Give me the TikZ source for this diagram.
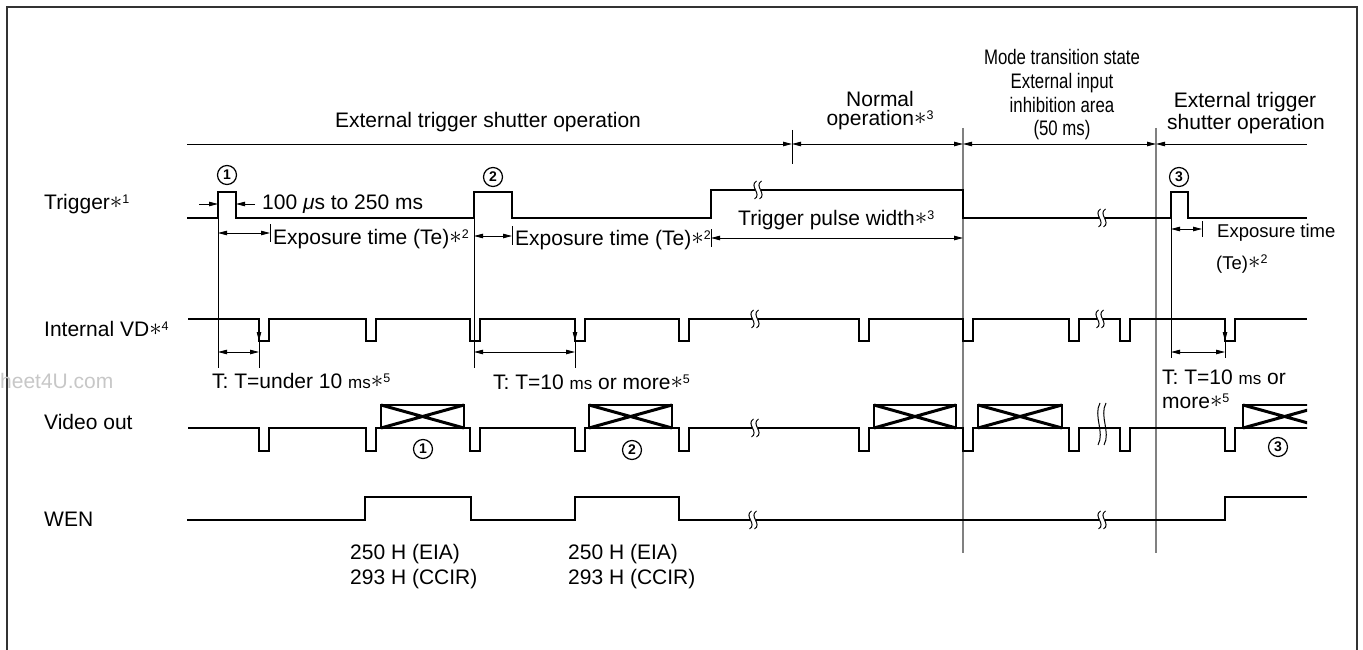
\documentclass[tikz,border=0pt]{standalone}
\usepackage{fontspec}
\setmainfont{Liberation Sans}
\newfontfamily\narrowfont[FakeStretch=0.8]{Liberation Sans}
\usetikzlibrary{arrows.meta}
\newcommand{\fnote}[1]{{\fontsize{23}{23}\selectfont\raisebox{1pt}{$\ast$}}\raisebox{6pt}{\fontsize{12.5}{12.5}\selectfont #1}}
\newcommand{\smms}{{\fontsize{17}{17}\selectfont ms}}
\tikzset{
  ah/.tip={Triangle[length=9pt,width=4.5pt]},
  sig/.style={line width=2.6pt, line join=miter},
  thinl/.style={line width=0.9pt},
  dim/.style={line width=0.9pt, ah-ah},
  gline/.style={line width=1.3pt, draw=black!50},
  lbl/.style={inner sep=0pt, font=\fontsize{21}{25}\selectfont},
  slbl/.style={inner sep=0pt, font=\fontsize{18.5}{22}\selectfont},
  nlbl/.style={inner sep=0pt, font=\narrowfont\fontsize{21}{25}\selectfont},
  cnum/.style={circle, draw, line width=1.2pt, inner sep=0pt, minimum size=19pt, font=\fontsize{14}{14}\selectfont\bfseries},
  xbox/.style={line width=1.4pt},
  xdiag/.style={line width=3pt},
  brk/.pic={
    \fill[white] (-2.6,-2.5) rectangle (2.6,2.5);
    \draw[line width=1pt] (-1.5,-9) .. controls (-9.5,-4) and (4.5,4) .. (-3.5,9);
    \draw[line width=1pt] (3.5,-9) .. controls (-4.5,-4) and (9.5,4) .. (1.5,9);
  },
  brkT/.pic={
    \fill[white] (-3,-2.5) rectangle (3,2.5);
    \draw[line width=1pt] (-2,-21) .. controls (-9,-8) and (3,8) .. (-4,21);
    \draw[line width=1pt] (4,-21) .. controls (-3,-8) and (9,8) .. (2,21);
  }
}
\begin{document}
\begin{tikzpicture}[x=1pt,y=-1pt]
\useasboundingbox (0,0) rectangle (1363,650);
% frame
\draw[line width=1.5pt, black!80] (7,650) -- (7,7) -- (1357,7) -- (1357,650);

% watermark
\node[lbl, anchor=base west, text=black!22] (wm) at (0,388.5) {heet4U.com};

% row labels
\node[lbl, anchor=base west] (ltrg) at (44,209.5) {Trigger\fnote{1}};
\node[lbl, anchor=base west] (lvd) at (44,336.5) {Internal VD\fnote{4}};
\node[lbl, anchor=base west] (lvid) at (44,429.5) {Video out};
\node[lbl, anchor=base west] (lwen) at (44,526.5) {WEN};

% mode headings
\node[lbl, anchor=base] (hext) at (488,127.5) {External trigger shutter operation};
\node[lbl, anchor=base] (hnor1) at (880,106.5) {Normal};
\node[lbl, anchor=base] (hnor2) at (880,125.5) {operation\fnote{3}};
\node[nlbl, anchor=base] (hmod1) at (1062,64.5) {Mode transition state};
\node[nlbl, anchor=base] (hmod2) at (1062,88.5) {External input};
\node[nlbl, anchor=base] (hmod3) at (1062,112.5) {inhibition area};
\node[nlbl, anchor=base] (hmod4) at (1062,135.5) {(50 ms)};
\node[lbl, anchor=base] (hext2a) at (1245,107.5) {External trigger};
\node[lbl, anchor=base] (hext2b) at (1246,129.5) {shutter operation};

% mode dimension line
\draw[gline] (963,128) -- (963,553);
\draw[gline] (1156,128) -- (1156,553);
\draw[thinl] (792,130) -- (792,164);
\draw[thinl, -ah] (187,144) -- (792,144);
\draw[dim] (792,144) -- (963,144);
\draw[dim] (963,144) -- (1156,144);
\draw[thinl, ah-] (1156,144) -- (1307,144);

% thin guide lines
\draw[thinl] (218,218) -- (218,368);
\draw[thinl] (474,218) -- (474,368);
\draw[thinl] (1171,218) -- (1171,358);

% trigger
\draw[sig] (187,218) -- (218,218) -- (218,192) -- (236,192) -- (236,218) -- (474,218) -- (474,192) -- (512,192) -- (512,218) -- (711,218) -- (711,190) -- (963,190) -- (963,218) -- (1171,218) -- (1171,192) -- (1188,192) -- (1188,218) -- (1307,218);
\pic at (758,190) {brk};
\pic at (1102,218) {brk};
\node[cnum] (c1) at (227,175) {1};
\node[cnum] (c2) at (493,177) {2};
\node[cnum] (c3) at (1179,177) {3};

\draw[thinl, -ah] (199,204) -- (218,204);
\draw[thinl, -ah] (255,204) -- (236,204);
\node[lbl, anchor=base west] (tw) at (262,209.5) {100 {\itshape μ}s to 250 ms};

\draw[dim] (218,233) -- (270,233);
\draw[thinl] (270,224) -- (270,242);
\node[lbl, anchor=base west] (te1) at (273,244.5) {Exposure time (Te)\fnote{2}};
\draw[dim] (474,236) -- (512,236);
\draw[thinl] (512,226) -- (512,245);
\node[lbl, anchor=base west] (te2) at (515,245.5) {Exposure time (Te)\fnote{2}};
\draw[thinl] (711,229) -- (711,247);
\draw[dim] (711,238) -- (963,238);
\node[lbl, anchor=base west] (tpw) at (738,225.5) {Trigger pulse width\fnote{3}};
\draw[dim] (1171,229) -- (1202,229);
\draw[thinl] (1202,221) -- (1202,237);
\node[slbl, anchor=base west] (te3a) at (1217,237.5) {Exposure time};
\node[slbl, anchor=base west] (te3b) at (1216,269.5) {(Te)\fnote{2}};

% internal VD
\draw[sig] (188,319) foreach \p in {259,366,470,575,679,859,963,1069,1120,1225} { -- (\p,319) -- (\p,341) -- (\p+10,341) -- (\p+10,319) } -- (1307,319);
\pic at (755,319) {brk};
\pic at (1100,319) {brk};
\foreach \p/\e in {259/368, 575/368, 1225/358} {
  \draw[thinl, -ah] (\p,321) -- (\p,341);
  \draw[thinl] (\p,341) -- (\p,\e);
}
\draw[dim] (218,352) -- (259,352);
\draw[dim] (474,352) -- (575,352);
\draw[dim] (1171,352) -- (1225,352);
\node[lbl, anchor=base west] (t1) at (212,388.5) {T: T=under 10 \smms\fnote{5}};
\node[lbl, anchor=base west] (t2) at (493,389.5) {T: T=10 \smms{} or more\fnote{5}};
\node[lbl, anchor=base west] (t3a) at (1162,384.5) {T: T=10 \smms{} or};
\node[lbl, anchor=base west] (t3b) at (1162,408) {more\fnote{5}};

% video out
\draw[sig] (188,428) foreach \p in {259,366,470,575,679,859,963,1069,1120,1225} { -- (\p,428) -- (\p,451) -- (\p+10,451) -- (\p+10,428) } -- (1307,428);
\foreach \a/\b in {381/464, 589/672, 874/956, 978/1062} {
  \draw[xbox] (\a,428) rectangle (\b,405);
  \draw[xdiag] (\a,405) -- (\b,428) (\a,428) -- (\b,405);
}
\begin{scope}
  \clip (1238,398) rectangle (1307,432);
  \draw[xbox] (1243,428) rectangle (1326,405);
  \draw[xdiag] (1243,405) -- (1326,428) (1243,428) -- (1326,405);
\end{scope}
\pic at (755,428) {brk};
\pic at (1102,424) {brkT};
\node[cnum] (v1) at (423,449) {1};
\node[cnum] (v2) at (632,450) {2};
\node[cnum] (v3) at (1278,447) {3};

% WEN
\draw[sig] (187,520) -- (365,520) -- (365,497) -- (471,497) -- (471,520) -- (575,520) -- (575,497) -- (679,497) -- (679,520) -- (1225,520) -- (1225,497) -- (1307,497);
\pic at (753,520) {brk};
\pic at (1102,520) {brk};
\node[lbl, anchor=base west] (w1a) at (350,559.5) {250 H (EIA)};
\node[lbl, anchor=base west] (w1b) at (350,584.5) {293 H (CCIR)};
\node[lbl, anchor=base west] (w2a) at (568,559.5) {250 H (EIA)};
\node[lbl, anchor=base west] (w2b) at (568,584.5) {293 H (CCIR)};
\end{tikzpicture}
\end{document}
